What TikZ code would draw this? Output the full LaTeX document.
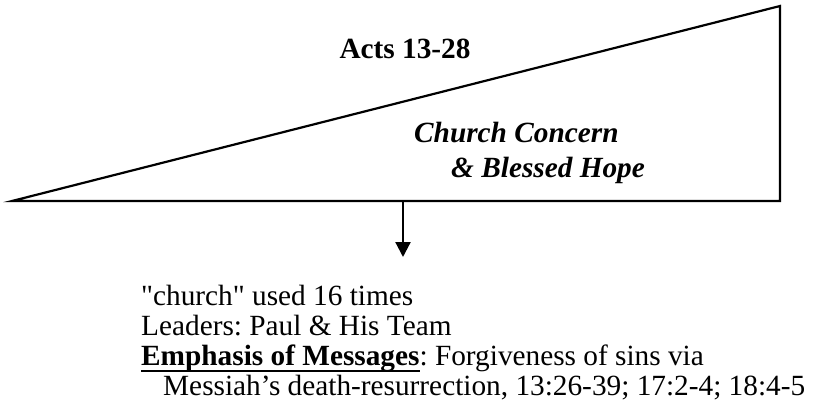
\documentclass[tikz,border=0pt]{standalone}
\usepackage{fontspec}
\setmainfont{Liberation Serif}[Ligatures=TeXOff]
\usetikzlibrary{arrows.meta}
\newcommand\ulbox[1]{\setbox0\hbox{#1}\rlap{\rule[-7pt]{\wd0}{2.2pt}}\box0}
\frenchspacing
\begin{document}
\begin{tikzpicture}[x=1pt,y=-1pt,
  txt/.style={inner sep=0pt,anchor=base west,font=\fontsize{29.3}{33.7}\selectfont},
  ctr/.style={inner sep=0pt,anchor=base,font=\fontsize{29.3}{33.7}\selectfont\bfseries},
  bi/.style={txt,font=\fontsize{29.3}{33.7}\selectfont\bfseries\itshape},
  edge/.style={line width=2.2pt,line join=miter},
  arr/.style={line width=2.2pt,-{Triangle[length=15pt,width=15pt]}}]
\useasboundingbox (0,0) rectangle (833,410);
\coordinate (L) at (12,201);
\coordinate (TR) at (780,6);
\coordinate (BR) at (780,201);
\draw[edge] (L) -- (TR) -- (BR) -- cycle;
\coordinate (a1) at (403,201);
\coordinate (a2) at (403,257);
\draw[arr] (a1) -- (a2);
\node[ctr] (title) at (405,58) {Acts 13-28};
\node[bi] (c1) at (414,142) {Church Concern};
\node[bi] (c2) at (451,177) {\& Blessed Hope};
\node[txt] (t1) at (141,305) {"church" used 16 times};
\node[txt] (t2) at (141,335) {Leaders: Paul \& His Team};
\node[txt] (t3) at (141,365) {\ulbox{\bfseries Emphasis of Messages}: Forgiveness of sins via};
\node[txt] (t4) at (163,395) {Messiah’s death-resurrection, 13:26-39; 17:2-4; 18:4-5};
\end{tikzpicture}
\end{document}
